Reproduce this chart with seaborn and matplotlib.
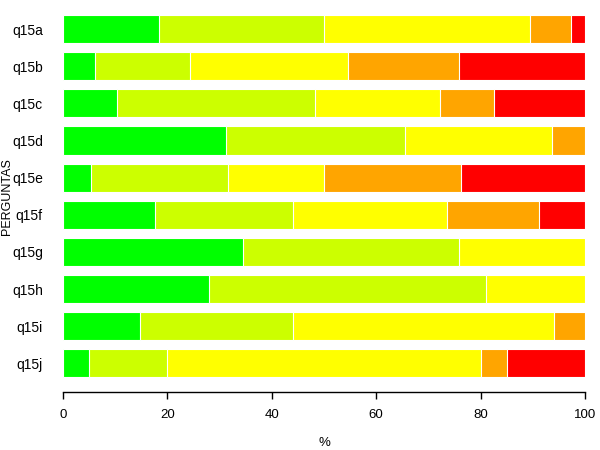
import numpy as np
import pandas as pd
import matplotlib
matplotlib.use('Agg')
import matplotlib.pyplot as plt
import seaborn as sns

# dados (% por pergunta, por nivel de resposta)
perguntas = ['q15a', 'q15b', 'q15c', 'q15d', 'q15e', 'q15f', 'q15g', 'q15h', 'q15i', 'q15j']
nivel1 = [18.4, 6.1, 10.3, 31.2, 5.3, 17.6, 34.5, 28.0, 14.7, 5.0]
nivel2 = [31.6, 18.2, 37.9, 34.4, 26.3, 26.5, 41.4, 53.0, 29.4, 15.0]
nivel3 = [39.5, 30.3, 24.1, 28.1, 18.4, 29.4, 24.1, 19.0, 50.0, 60.0]
nivel4 = [7.9, 21.2, 10.3, 6.3, 26.3, 17.6, 0.0, 0.0, 5.9, 5.0]
nivel5 = [2.6, 24.2, 17.4, 0.0, 23.7, 8.9, 0.0, 0.0, 0.0, 15.0]
cores = ['#00FF00', '#CCFF00', '#FFFF00', '#FFA500', '#FF0000']

niveis = np.array([nivel1, nivel2, nivel3, nivel4, nivel5])
acumulado = niveis.cumsum(axis=0)

sns.set_style('white')
plt.rcParams['font.family'] = ['Liberation Sans', 'DejaVu Sans']
plt.rcParams['text.color'] = 'black'
plt.rcParams['xtick.color'] = 'black'
plt.rcParams['ytick.color'] = 'black'
plt.rcParams['axes.labelcolor'] = 'black'

fig = plt.figure(figsize=(6, 4.5), dpi=100)
ax = fig.add_axes([0.105, 0.143, 0.87, 0.842])

# empilhado: desenha do maior acumulado para o menor
for i in range(4, -1, -1):
    df = pd.DataFrame({'PERGUNTAS': perguntas, 'valor': acumulado[i]})
    sns.barplot(data=df, x='valor', y='PERGUNTAS', order=perguntas, color=cores[i],
                orient='h', width=0.755, edgecolor='white', linewidth=0.8,
                saturation=1, ax=ax)

ax.set_xlim(0, 100)
ax.set_ylim(9.6, -0.6)
ax.set_xticks([0, 20, 40, 60, 80, 100])
for s in ['top', 'right', 'left']:
    ax.spines[s].set_visible(False)
ax.spines['bottom'].set_position(('outward', 4.5))
ax.spines['bottom'].set_color('black')
ax.spines['bottom'].set_linewidth(1)
ax.tick_params(axis='x', bottom=True, length=5, width=1, color='black', pad=7, labelsize=9.5)
ax.tick_params(axis='y', left=False, pad=11, labelsize=10)
ax.set_xlabel('%', fontsize=9.5, labelpad=12)
ax.set_ylabel('PERGUNTAS', fontsize=9)
ax.yaxis.set_label_coords(-0.095, 0.5)

fig.savefig('out.png', dpi=100)
